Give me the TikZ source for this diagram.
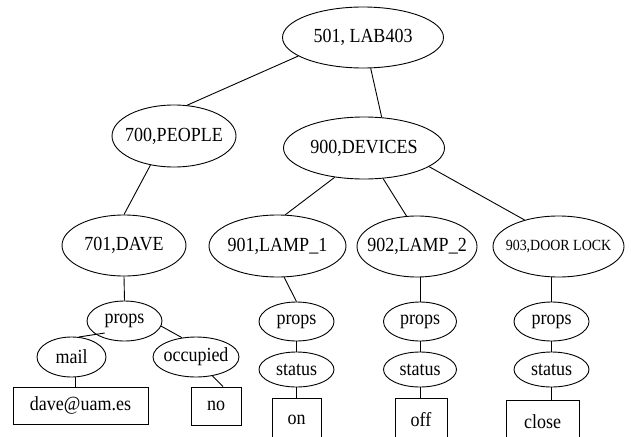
\documentclass[tikz,border=0pt]{standalone}
\usepackage{fontspec}
\setmainfont{Liberation Serif}[FakeStretch=0.9]
\usetikzlibrary{shapes.geometric}

\tikzset{
  ent/.style={ellipse, draw, line width=0.9pt, inner xsep=-12pt, inner ysep=0pt,
    font=\fontsize{20}{22}\selectfont},
  val/.style={rectangle, draw, line width=0.9pt, inner sep=0pt,
    font=\fontsize{20}{22}\selectfont},
  link/.style={line width=0.9pt}
}

\begin{document}
\begin{tikzpicture}[x=1pt, y=-1pt]
  \path[use as bounding box, clip] (0,0) rectangle (631,436);
  % top levels
  \node[ent, minimum width=161, minimum height=61] (lab) at (363,37.5) {501, LAB403};
  \node[ent, minimum width=124, minimum height=62] (people) at (174,136) {700,PEOPLE};
  \node[ent, minimum width=161, minimum height=62] (devices) at (364,148) {900,DEVICES};
  \draw[link] (lab.196) -- (people.67);
  \draw[link] (lab.284) -- (devices.60);
  % people
  \node[ent, minimum width=124, minimum height=61] (dave) at (124,245.5) {701,DAVE};
  \node[ent, minimum width=75, minimum height=40] (daveprops) at (124.5,321) {props};
  \node[ent, minimum width=69, minimum height=40] (mail) at (71.5,357) {mail};
  \node[ent, minimum width=86, minimum height=40] (occupied) at (196,357) {occupied};
  \node[val, minimum width=135, minimum height=37] (mailval) at (80.5,405.5) {dave@uam.es};
  \node[val, minimum width=50, minimum height=38] (occval) at (216,406) {no};
  \draw[link] (people.231) -- (dave.90);
  \draw[link] (dave.south) -- (daveprops.north);
  \draw[link, shorten <=-9pt] (daveprops.205) -- (mail.70);
  \draw[link] (daveprops.-8) -- (occupied.126);
  \draw[link] (mail.-80) -- (mail.-80 |- mailval.north);
  \draw[link] (occupied.311) -- (occval.70);
  % devices
  \node[ent, minimum width=137, minimum height=62] (lampa) at (277.5,246) {901,LAMP\_1};
  \node[ent, minimum width=120, minimum height=61] (lampb) at (417,246.5) {902,LAMP\_2};
  \node[ent, minimum width=131, minimum height=61, font=\fontsize{15.5}{17}\selectfont]
    (door) at (558.5,246.5) {903,DOOR LOCK};
  \draw[link] (devices.225) -- (lampa.76);
  \draw[link] (devices.302) -- (lampb.109);
  \draw[link] (devices.344) -- (door.142);
  % lamp 1
  \node[ent, minimum width=75, minimum height=39] (lampaprops) at (296.5,321.5) {props};
  \node[ent, minimum width=75, minimum height=35] (lampastatus) at (296.5,369.5) {status};
  \node[val, minimum width=49, minimum height=44] (lampaval) at (296.5,420) {on};
  \draw[link] (lampa.-78) -- (lampaprops.north);
  \draw[link] (lampaprops.south) -- (lampastatus.north);
  \draw[link] (lampastatus.south) -- (lampaval.north);
  % lamp 2
  \node[ent, minimum width=73, minimum height=39] (lampbprops) at (420,321.5) {props};
  \node[ent, minimum width=73, minimum height=35] (lampbstatus) at (420,369.5) {status};
  \node[val, minimum width=52, minimum height=44] (lampbval) at (421,420) {off};
  \draw[link] (lampbprops.north |- lampb.south) -- (lampbprops.north);
  \draw[link] (lampbprops.south) -- (lampbstatus.north);
  \draw[link] (lampbstatus.south) -- (lampbstatus.south |- lampbval.north);
  % door lock
  \node[ent, minimum width=75, minimum height=39] (doorprops) at (551.5,321.5) {props};
  \node[ent, minimum width=75, minimum height=35] (doorstatus) at (551.5,369.5) {status};
  \node[val, minimum width=73, minimum height=44] (doorval) at (542.5,422) {close};
  \draw[link] (doorprops.north |- door.south) -- (doorprops.north);
  \draw[link] (doorprops.south) -- (doorstatus.north);
  \draw[link] (doorstatus.south) -- (doorstatus.south |- doorval.north);
\end{tikzpicture}
\end{document}
